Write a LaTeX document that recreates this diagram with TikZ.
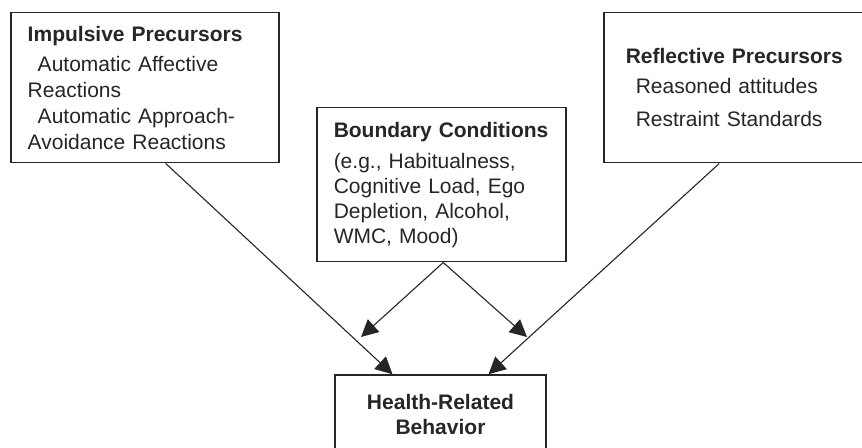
\documentclass[tikz,border=0pt]{standalone}
\usepackage{fontspec}
\setmainfont{Liberation Sans}
\usepackage{tikz}
\usetikzlibrary{arrows.meta}

\definecolor{inkgray}{HTML}{262626}

\tikzset{
    factorbox/.style={draw=inkgray, line width=0.75pt, align=left, inner ysep=0pt,
        font=\fontsize{10.5}{12.5}\selectfont, text=inkgray},
    link/.style={line width=0.55pt, draw=inkgray, -{Triangle[length=8.5pt, width=8.5pt]}}
}

\begin{document}
\begin{tikzpicture}[x=0.5pt, y=-0.5pt]
        % Frame of the picture
        \clip (0,0) rectangle (862,448);
        \fill[white] (0,0) rectangle (862,448);

        % Impulsive precursors (left)
        \node[factorbox, anchor=north west, inner xsep=8.5pt, text width=117pt, minimum height=75pt]
            (impulse) at (10,12) {\textbf{Impulsive Precursors}\\[2.5pt]
            \hspace{5pt}Automatic Affective\\[0.5pt]
            Reactions\\[0.5pt]
            \hspace{5pt}Automatic Approach-\\[0.5pt]
            Avoidance Reactions};

        % Boundary conditions (middle)
        \node[factorbox, anchor=north west, inner xsep=8.5pt, text width=107.5pt, minimum height=77pt]
            (boundary) at (316,107) {\textbf{Boundary Conditions}\\[3pt]
            (e.g., Habitualness,\\
            Cognitive Load, Ego\\
            Depletion, Alcohol,\\
            WMC, Mood)};

        % Reflective precursors (right)
        \node[factorbox, anchor=north west, inner xsep=11pt, text width=109.5pt, minimum height=75pt]
            (reflect) at (603,12) {\textbf{Reflective Precursors}\\[2.5pt]
            \hspace{5pt}Reasoned attitudes\\[4pt]
            \hspace{5pt}Restraint Standards};

        % Behaviour (bottom)
        \node[factorbox, align=center, minimum width=105.5pt, minimum height=39pt]
            (behavior) at (440.5,414) {\textbf{Health-Related}\\\textbf{Behavior}};

        % Free ends of the moderating arrows
        \coordinate (modleft) at (361,337);
        \coordinate (modright) at (527,337);

        % Connectors
        \draw[link] ([xshift=10.5pt]impulse.south) -- ([xshift=-24pt]behavior.north);
        \draw[link] ([xshift=-8pt]reflect.south) -- ([xshift=24pt]behavior.north);
        \draw[link] ([xshift=1pt]boundary.south) -- (modleft);
        \draw[link] ([xshift=1pt]boundary.south) -- (modright);
    \end{tikzpicture}
\end{document}
